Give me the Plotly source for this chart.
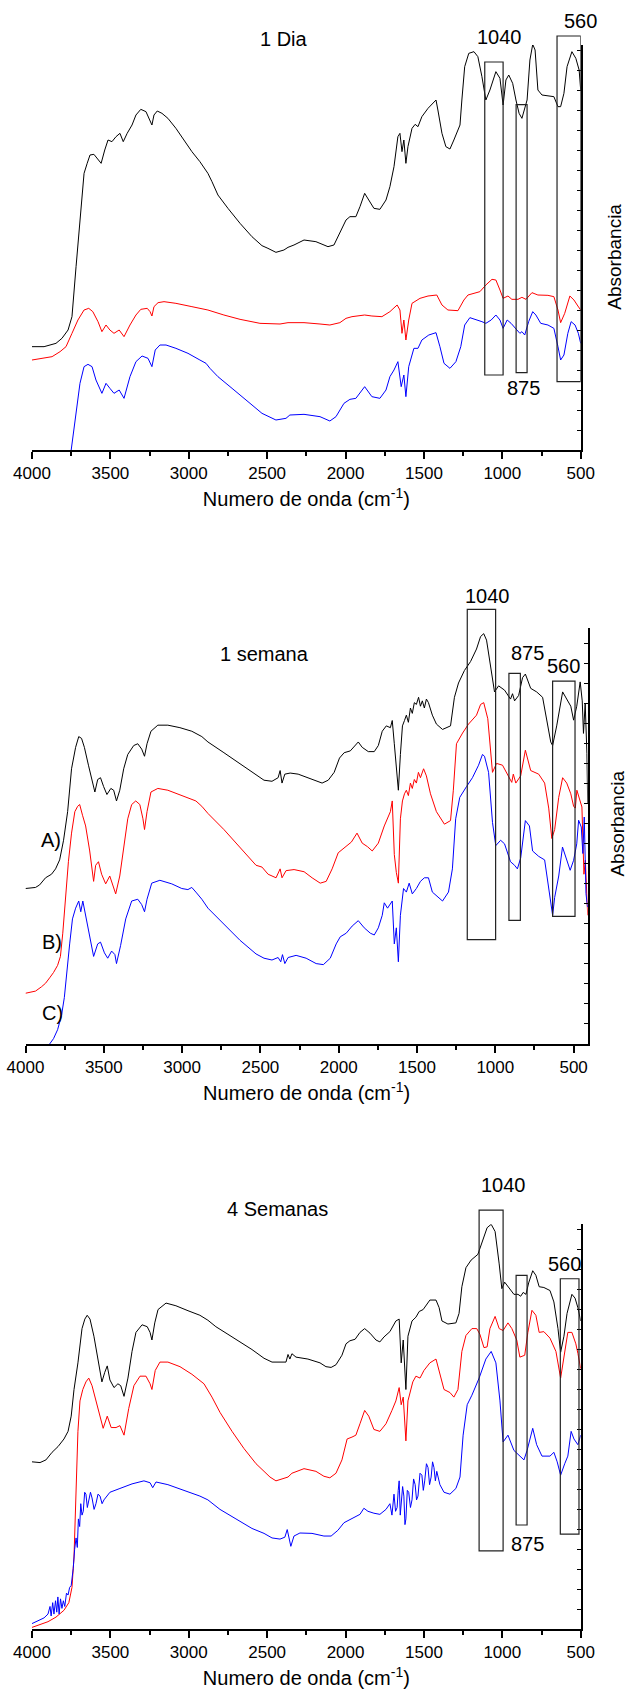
import plotly.graph_objects as go

FONT = "Liberation Sans, Arial, sans-serif"

# ---------------- Panel 1 : 1 Dia ----------------
p1_black_x = [4000,3923,3847,3809,3770,3745,3719,3694,3668,3648,3630,3605,3579,3559,3536,3515,3490,3464,3439,3418,3393,3362,3337,3306,3273,3247,3235,3222,3201,3171,3133,3082,3031,2980,2929,2903,2878,2852,2814,2750,2673,2597,2533,2495,2444,2393,2367,2329,2265,2189,2112,2074,2036,1997,1972,1934,1908,1878,1852,1819,1781,1742,1717,1691,1666,1653,1640,1628,1615,1602,1576,1556,1538,1513,1474,1423,1411,1385,1360,1334,1309,1270,1258,1240,1214,1181,1156,1130,1105,1079,1041,1015,995,977,959,934,913,893,875,862,842,824,806,791,773,747,709,671,645,628,607,587,556,531,510,500]
p1_black_y = [310,310,320,335,360,400,550,700,830,860,885,887,870,860,900,930,925,940,950,925,950,975,1005,1022,1015,990,975,1005,1017,1010,995,965,930,895,865,845,830,805,765,725,680,640,613,605,593,600,608,615,630,625,610,615,650,690,700,700,730,770,750,725,722,750,790,850,940,950,895,930,860,910,965,977,970,1000,1025,1050,1020,950,910,903,930,975,1050,1150,1190,1195,1180,1120,1050,1080,1135,1115,1035,1110,1125,1100,1050,1010,995,1015,1050,1170,1217,1200,1080,1065,1062,1060,1030,1030,1070,1150,1195,1175,1140,1080]
p1_red_x = [4000,3923,3872,3821,3783,3745,3707,3668,3638,3612,3579,3554,3528,3503,3477,3444,3413,3375,3337,3306,3265,3247,3235,3222,3196,3158,3082,2980,2878,2776,2673,2546,2418,2367,2265,2163,2100,2036,1997,1959,1878,1832,1768,1717,1671,1653,1640,1628,1615,1597,1576,1525,1474,1418,1385,1347,1283,1245,1219,1143,1105,1066,1041,1015,995,964,939,900,875,849,811,773,709,671,645,628,602,569,543,518,500]
p1_red_y = [270,275,280,295,310,350,390,420,425,415,385,355,375,360,350,360,340,375,405,422,425,415,402,430,442,445,440,430,420,405,392,380,378,382,382,378,375,382,395,400,405,402,400,415,435,420,350,390,330,390,440,455,462,465,435,420,418,450,465,475,495,512,510,480,455,462,452,452,458,452,472,465,464,460,420,382,410,462,450,432,420]
p1_blue_x = [3750,3732,3714,3694,3668,3643,3617,3592,3554,3528,3503,3477,3444,3413,3375,3337,3298,3260,3235,3214,3184,3145,3082,3005,2929,2890,2865,2814,2724,2622,2533,2444,2380,2355,2265,2163,2100,2061,2010,1972,1934,1878,1832,1781,1742,1717,1691,1666,1645,1628,1615,1597,1564,1538,1513,1469,1423,1398,1372,1334,1296,1265,1240,1207,1168,1130,1105,1071,1041,1015,995,969,944,913,888,875,857,832,806,786,755,709,671,645,628,607,582,561,536,515,500]
p1_blue_y = [0,70,130,200,250,257,250,210,170,200,185,170,180,155,220,265,282,275,250,300,315,315,305,290,270,260,245,220,185,145,110,90,95,105,107,100,87,100,140,152,155,190,160,155,180,220,240,265,190,225,160,250,305,305,330,345,352,310,260,245,265,310,375,397,392,385,380,390,405,390,365,390,380,365,350,355,345,385,415,405,380,375,365,310,270,285,350,385,375,350,320]

# ---------------- Panel 2 : 1 semana ----------------
p2_black_x = [4000,3936,3910,3872,3834,3808,3782,3757,3731,3706,3680,3660,3642,3624,3598,3572,3557,3539,3521,3501,3480,3455,3437,3419,3398,3373,3347,3309,3283,3258,3240,3224,3199,3155,3091,3014,2938,2874,2835,2733,2630,2528,2477,2426,2387,2374,2362,2344,2310,2259,2195,2144,2106,2067,2029,1995,1965,1926,1875,1850,1811,1773,1747,1722,1696,1670,1658,1645,1632,1619,1606,1593,1580,1568,1555,1542,1530,1517,1504,1490,1478,1466,1453,1440,1427,1402,1376,1337,1286,1261,1235,1197,1158,1120,1094,1074,1056,1030,1005,979,941,903,890,877,851,826,808,774,736,698,672,646,634,608,570,544,518,500,480,458,445,437,426,415,410]
p2_black_y = [435,438,445,465,475,490,515,570,650,770,830,860,855,830,780,730,705,740,745,720,698,715,710,680,710,770,810,835,840,825,805,840,875,892,892,885,875,860,845,815,785,755,738,735,745,765,730,755,758,755,745,735,730,738,760,800,815,820,845,830,818,818,835,875,890,885,905,840,770,710,810,890,905,920,900,940,925,955,950,970,945,960,940,965,955,920,895,880,890,970,1010,1045,1070,1105,1140,1148,1130,1050,985,1002,990,965,980,960,975,1025,1035,995,985,970,910,845,835,890,985,965,945,906,945,1013,960,869,953,813,673]
p2_red_x = [4000,3936,3898,3872,3846,3821,3795,3777,3762,3744,3726,3706,3685,3667,3654,3636,3616,3590,3565,3552,3534,3514,3488,3462,3445,3424,3398,3373,3347,3322,3296,3270,3250,3240,3224,3199,3155,3091,3014,2912,2874,2835,2733,2630,2579,2528,2490,2451,2400,2374,2362,2336,2285,2221,2170,2118,2080,2042,2003,1965,1919,1883,1850,1816,1786,1747,1709,1670,1658,1645,1632,1619,1606,1593,1580,1568,1555,1542,1530,1517,1504,1491,1478,1458,1440,1414,1376,1325,1286,1268,1248,1209,1171,1120,1094,1074,1048,1018,992,954,915,895,885,869,838,808,774,723,685,659,639,621,595,570,544,518,500,489,479,465,447,434,425,410]
p2_red_y = [142,148,160,170,185,200,220,245,310,410,510,590,650,665,670,640,610,540,455,500,510,475,448,470,450,420,470,550,630,670,680,670,630,600,650,705,715,710,698,680,665,645,600,550,525,500,495,475,465,490,465,485,488,482,465,450,455,490,535,548,565,590,562,552,540,562,610,650,680,530,480,450,630,680,700,710,695,730,715,740,730,760,745,770,750,700,650,615,625,710,840,870,895,920,950,955,910,760,785,780,750,732,755,730,750,822,765,755,730,660,575,600,690,745,730,700,665,660,710,690,663,475,514,360]
p2_blue_x = [3846,3821,3795,3770,3752,3736,3718,3700,3680,3660,3647,3634,3616,3590,3565,3539,3521,3496,3475,3450,3429,3419,3393,3360,3322,3283,3258,3240,3224,3194,3142,3066,3002,2963,2938,2912,2874,2835,2733,2630,2528,2477,2426,2387,2370,2359,2344,2323,2272,2208,2144,2098,2054,2016,1990,1952,1914,1875,1837,1798,1773,1747,1722,1709,1688,1670,1658,1645,1632,1619,1606,1586,1568,1550,1530,1504,1478,1453,1427,1402,1376,1337,1299,1274,1253,1227,1184,1146,1107,1082,1069,1043,1018,997,966,941,903,877,859,838,808,782,762,723,685,672,654,634,621,595,571,544,522,500,480,468,451,441,432,421,411]
p2_blue_y = [0,15,40,80,130,210,280,350,380,400,370,400,360,310,245,280,285,255,240,260,250,225,275,350,400,405,390,370,405,450,458,448,435,432,438,425,405,380,335,290,252,240,235,242,230,250,225,242,248,240,225,222,240,280,300,310,330,345,325,310,305,325,360,395,380,390,400,280,325,230,360,435,425,450,420,435,455,465,465,425,415,400,425,490,630,690,720,745,780,810,805,760,620,555,570,560,510,500,490,520,625,610,540,525,515,475,410,360,410,470,551,515,486,514,560,626,607,533,635,421,383]

# ---------------- Panel 3 : 4 Semanas ----------------
p3_black_x = [4000,3949,3911,3872,3834,3796,3770,3750,3732,3707,3681,3663,3648,3630,3605,3579,3554,3536,3520,3503,3477,3452,3434,3413,3388,3362,3337,3298,3265,3247,3235,3217,3196,3145,3082,3005,2929,2878,2827,2750,2673,2597,2520,2469,2418,2380,2367,2355,2342,2316,2240,2163,2125,2092,2061,2023,1997,1972,1939,1908,1878,1844,1806,1781,1755,1717,1679,1658,1645,1632,1615,1602,1576,1551,1530,1505,1462,1423,1403,1385,1347,1296,1276,1258,1232,1199,1156,1130,1097,1071,1046,1020,1003,985,964,926,900,883,867,849,832,806,786,765,735,696,671,645,628,607,587,556,536,518,500]
p3_black_y = [440,438,445,465,480,500,520,560,630,700,790,815,825,815,770,710,650,675,692,655,635,645,640,612,660,730,780,800,795,780,760,805,840,857,850,837,825,812,795,775,755,735,712,702,702,702,722,710,724,715,710,700,690,688,695,720,750,758,762,780,790,778,760,755,768,782,810,815,700,760,630,770,810,820,835,840,865,865,845,810,802,805,830,900,950,970,985,1015,1055,1064,1045,960,895,912,900,880,880,875,885,880,910,942,930,900,898,890,860,790,728,770,830,880,870,845,810]
p3_red_x = [4000,3949,3898,3847,3796,3765,3745,3732,3719,3707,3694,3676,3656,3638,3617,3592,3566,3546,3520,3495,3464,3439,3413,3383,3350,3311,3273,3247,3235,3214,3184,3133,3056,2980,2903,2852,2801,2724,2648,2571,2520,2482,2444,2405,2367,2342,2265,2189,2138,2100,2061,2023,1990,1959,1934,1908,1878,1852,1819,1781,1742,1704,1679,1658,1645,1632,1615,1602,1571,1551,1525,1500,1462,1423,1398,1372,1334,1309,1283,1258,1232,1194,1163,1143,1117,1097,1079,1046,1020,995,964,939,908,888,857,837,811,786,765,735,696,658,628,607,582,556,531,518,500]
p3_red_y = [5,12,20,32,50,70,110,190,390,520,600,630,650,660,640,600,560,528,560,530,530,535,510,580,640,665,665,645,630,680,702,702,690,670,645,610,570,520,475,435,415,400,390,395,400,410,422,415,402,398,410,445,500,505,510,540,575,560,525,520,540,575,600,635,590,610,495,600,650,665,660,680,700,710,670,630,622,610,630,730,772,790,790,775,740,742,790,822,790,785,805,790,760,715,720,780,838,825,780,782,765,730,660,710,780,780,750,725,685]
p3_blue_x = [4000,3962,3923,3898,3885,3878,3868,3860,3850,3842,3835,3827,3818,3809,3800,3791,3780,3770,3760,3750,3737,3728,3719,3711,3704,3696,3689,3681,3673,3664,3656,3647,3638,3627,3617,3604,3592,3579,3566,3553,3541,3503,3439,3362,3286,3247,3230,3209,3133,3031,2929,2878,2801,2699,2597,2520,2469,2418,2387,2372,2360,2349,2329,2291,2214,2138,2092,2049,2010,1959,1908,1883,1857,1819,1781,1742,1717,1704,1691,1681,1671,1664,1658,1651,1645,1636,1628,1621,1615,1606,1597,1586,1576,1566,1556,1547,1538,1525,1513,1504,1495,1484,1474,1464,1454,1445,1436,1427,1418,1398,1372,1334,1296,1270,1250,1224,1194,1148,1105,1071,1041,1015,995,964,926,888,862,842,806,781,747,696,671,650,628,602,582,561,543,518,500]
p3_blue_y = [15,22,30,40,60,35,70,40,75,45,85,40,80,55,75,60,95,90,110,115,160,210,240,215,290,270,330,300,310,360,355,320,335,360,345,315,330,355,350,330,340,360,370,382,390,385,372,387,380,365,350,340,315,290,265,252,240,237,242,262,240,218,245,253,252,245,245,260,280,290,302,318,310,305,302,315,330,300,355,310,320,365,390,300,330,375,350,275,290,365,360,320,340,395,380,340,350,410,405,365,390,435,425,380,400,440,425,390,415,380,360,355,370,400,510,590,615,660,710,730,700,600,492,510,470,455,445,470,528,485,455,455,465,440,405,435,455,520,500,485,510]

# band boxes: (x0, x1, y0, y1) in data units of each panel
p1_boxes = [(1112, 995, 225, 1164), (912, 842, 232, 1036), (651, 500, 205, 1242)]
p2_boxes = [(1179, 998, 292, 1216), (913, 840, 346, 1037), (634, 491, 357, 1015)]
p3_boxes = [(1148, 995, 206, 1101), (912, 842, 274, 930), (630, 511, 250, 921)]

# text labels: (text, x, y) in data units
p1_labels = [("1 Dia", 2393, 1232), ("1040", 1016, 1240), ("560", 500, 1288), ("875", 863, 185)]
p2_labels = [("1 semana", 2474, 1092), ("1040", 1053, 1253), ("875", 794, 1093), ("560", 564, 1057),
             ("A)", 3840, 570), ("B)", 3828, 285), ("C)", 3828, 86)]
p3_labels = [("4 Semanas", 2432, 1105), ("1040", 991, 1167), ("560", 602, 961), ("875", 842, 223)]

W, H = 627, 1697
panels = [
    dict(n="", xdom=[32, 580.7], ydom=[450, 45], xr=[4000, 500], yr=[0, 1215], ydt=60,
         series=[(p1_black_x, p1_black_y, "black"), (p1_red_x, p1_red_y, "red"), (p1_blue_x, p1_blue_y, "blue")],
         boxes=p1_boxes, labels=p1_labels, absy=256.7, absx=615),
    dict(n="2", xdom=[25.5, 587.7], ydom=[1044, 628.3], xr=[4000, 410], yr=[0, 1163], ydt=56,
         series=[(p2_black_x, p2_black_y, "black"), (p2_red_x, p2_red_y, "red"), (p2_blue_x, p2_blue_y, "blue")],
         boxes=p2_boxes, labels=p2_labels, absy=823.3, absx=617.3),
    dict(n="3", xdom=[32, 580.7], ydom=[1629.3, 1224.3], xr=[4000, 500], yr=[0, 1064], ydt=52.5,
         series=[(p3_black_x, p3_black_y, "black"), (p3_red_x, p3_red_y, "red"), (p3_blue_x, p3_blue_y, "blue")],
         boxes=p3_boxes, labels=p3_labels, absy=None, absx=None),
]

fig = go.Figure()
shapes, annotations = [], []
layout = {}
for p in panels:
    xa, ya = "x" + p["n"], "y" + p["n"]
    xdom = [p["xdom"][0] / W, p["xdom"][1] / W]
    ydom = [1 - p["ydom"][0] / H, 1 - p["ydom"][1] / H]
    for xs, ys, col in p["series"]:
        assert len(xs) == len(ys), (col, len(xs), len(ys))
        fig.add_trace(go.Scatter(x=xs, y=ys, mode="lines", line=dict(color=col, width=1),
                                 xaxis=xa, yaxis=ya, showlegend=False, hoverinfo="skip"))
    r0, r1 = p["yr"]
    def to_paper(v, r0=r0, r1=r1, ydom=ydom):
        return ydom[0] + (v - r0) / (r1 - r0) * (ydom[1] - ydom[0])
    for x0, x1, y0, y1 in p["boxes"]:
        shapes.append(dict(type="rect", xref=xa, yref="paper", x0=x0, x1=x1,
                           y0=to_paper(y0), y1=to_paper(y1),
                           line=dict(color="#222222", width=1.2), fillcolor="rgba(0,0,0,0)"))
    for txt, x, y in p["labels"]:
        annotations.append(dict(text=txt, x=x, y=to_paper(y), xref=xa, yref="paper", showarrow=False,
                                xanchor="center", yanchor="middle",
                                font=dict(size=20, color="black", family=FONT)))
    if p["absy"] is not None:
        annotations.append(dict(text="Absorbancia", x=p["absx"] / W, y=1 - p["absy"] / H,
                                xref="paper", yref="paper", showarrow=False, textangle=-90,
                                xanchor="center", yanchor="middle",
                                font=dict(size=19, color="black", family=FONT)))
    key = p["n"]
    layout["xaxis" + key] = dict(
        domain=xdom, range=p["xr"], anchor=ya, showline=True, linecolor="black", linewidth=1.5,
        ticks="outside", ticklen=7, tickwidth=1.5, tickcolor="black", tick0=0, dtick=500,
        minor=dict(ticks="outside", ticklen=4, tickwidth=1.5, tickcolor="black", dtick=250, showgrid=False),
        showgrid=False, zeroline=False, automargin=False,
        tickfont=dict(size=17, color="black", family=FONT),
        title=dict(text="Numero de onda (cm<sup>-1</sup>)", font=dict(size=20, color="black", family=FONT),
                   standoff=10))
    layout["yaxis" + key] = dict(
        domain=ydom, range=p["yr"], anchor=xa, side="right", showline=True, linecolor="black",
        linewidth=1.5, ticks="inside", ticklen=4, tickwidth=1, tickcolor="black", tick0=0, dtick=p["ydt"],
        showticklabels=False, showgrid=False, zeroline=False, automargin=False)

fig.update_layout(width=W, height=H, margin=dict(l=0, r=0, t=0, b=0), plot_bgcolor="white",
                  paper_bgcolor="white", shapes=shapes, annotations=annotations,
                  font=dict(family=FONT, color="black"), **layout)
fig.write_html("out.html")
